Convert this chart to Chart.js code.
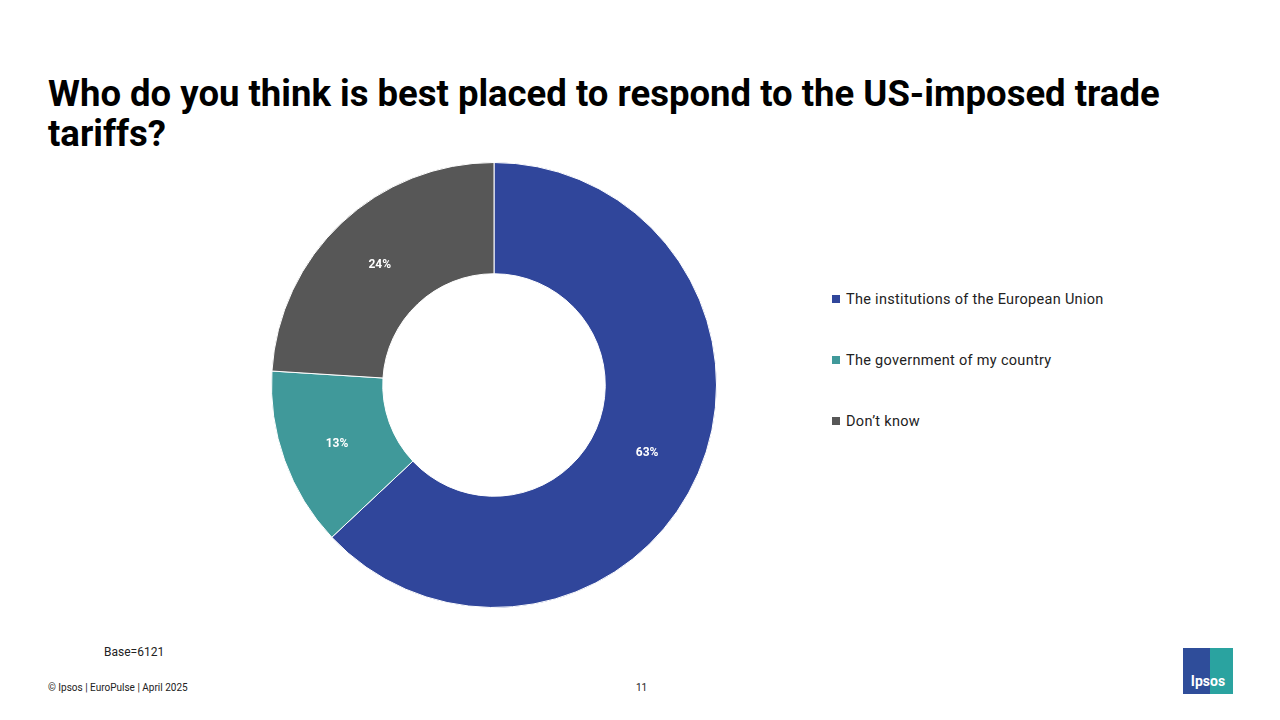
<!DOCTYPE html>
<html><head><meta charset="utf-8">
<script src="https://cdn.jsdelivr.net/npm/chart.js@4"></script>
<style>
body{margin:0;width:1280px;height:720px;background:#fff;font-family:Roboto,"Noto Sans",sans-serif;position:relative;overflow:hidden}
h1{position:absolute;left:48px;top:74px;margin:0;font-size:36.5px;line-height:40px;font-weight:700;color:#000;width:1150px;font-family:Roboto,sans-serif}
#wrap{position:absolute;left:266px;top:157px;width:456px;height:456px}
.leg{position:absolute;left:832px;font-size:14.5px;color:#222;letter-spacing:0.3px}
.leg span{display:inline-block;width:8px;height:8px;margin-right:6px;vertical-align:1px}
.small{position:absolute;font-size:12px;color:#222}
#logo{position:absolute;left:1183px;top:648px;width:50px;height:46px;background:linear-gradient(90deg,#2f4d9a 55%,#2aa3a0 55%);color:#fff;font-weight:700;font-size:14px;text-align:center;line-height:66px}
</style></head><body>
<h1>Who do you think is best placed to respond to the US-imposed trade tariffs?</h1>
<div id="wrap"><canvas id="c"></canvas></div>
<div id="legend"></div>
<div class="small" style="left:104px;top:645px">Base=6121</div>
<div class="small" style="left:48px;top:682px;font-size:10px">© Ipsos | EuroPulse | April 2025</div>
<div class="small" style="left:636px;top:682px;font-size:10px">11</div>
<div id="logo">Ipsos</div>
<script>
const categories=["The institutions of the European Union","The government of my country","Don’t know"];
const values=[63,13,24];
const colors=["#30469b","#40999a","#575757"];
const legendTops=[291,352,413];
const lg=document.getElementById('legend');
categories.forEach((c,i)=>{const d=document.createElement('div');d.className='leg';d.style.top=legendTops[i]+'px';d.innerHTML='<span style="background:'+colors[i]+'"></span>'+c;lg.appendChild(d);});
const labelPlugin={id:'lbl',afterDatasetsDraw(ch){const ctx=ch.ctx;ch.getDatasetMeta(0).data.forEach((a,i)=>{const p=a.tooltipPosition();ctx.save();ctx.fillStyle='#fff';ctx.font='bold 12px Roboto';ctx.textAlign='center';ctx.textBaseline='middle';ctx.fillText(values[i]+'%',p.x,p.y+2);ctx.restore();});}};
new Chart(document.getElementById('c'),{type:'doughnut',data:{labels:categories,datasets:[{data:values,backgroundColor:colors,borderColor:'#fff',borderWidth:1}]},
options:{responsive:true,maintainAspectRatio:false,animation:false,cutout:'50%',layout:{padding:5},plugins:{legend:{display:false},tooltip:{enabled:false}}},plugins:[labelPlugin]});
</script>
</body></html>
